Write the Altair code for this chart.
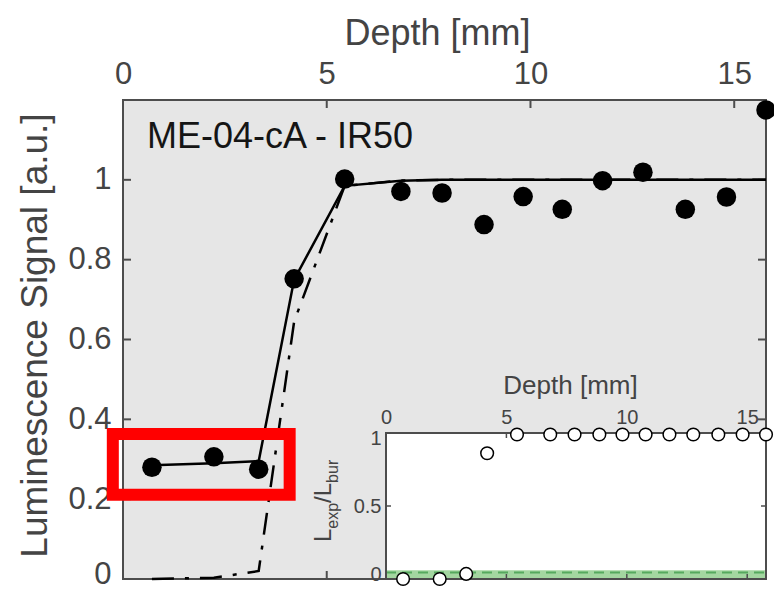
import altair as alt
import pandas as pd

# ---------------- data ----------------
depth = [0.71, 2.23, 3.33, 4.20, 5.44, 6.82, 7.83, 8.86, 9.82, 10.78, 11.77, 12.76, 13.80, 14.81, 15.78]
signal = [0.280, 0.306, 0.275, 0.752, 1.002, 0.971, 0.967, 0.888, 0.958, 0.926, 0.998, 1.019, 0.926, 0.957, 1.175]
fit_solid = [0.285, 0.290, 0.295, 0.750, 0.985, 0.998, 1.000, 1.000, 1.000, 1.000, 1.000, 1.000, 1.000, 1.000, 1.000]
fit_dashdot = [0.000, 0.003, 0.020, 0.645, 0.985, 0.998, 1.000, 1.000, 1.000, 1.000, 1.000, 1.000, 1.000, 1.000, 1.000]
ratio = [0.000, 0.000, 0.035, 0.861, 0.990, 0.990, 0.990, 0.990, 0.990, 0.990, 0.990, 0.990, 0.990, 0.990, 0.990]

x_ticks = [0, 5, 10, 15]
y_ticks = [0, 0.2, 0.4, 0.6, 0.8, 1]
inset_x_ticks = [0, 5, 10, 15]
inset_y_ticks = [0, 0.5, 1]

depth_max = 15.78
signal_max = 1.2
band_top = 0.06
threshold = 0.045
box_depth = [-0.25, 4.09]
box_signal = [0.211, 0.363]
sample_label = "ME-04-cA - IR50"

# ---------------- layout / style ----------------
W, H = 643, 479
IX = [263, 643]      # inset x pixel range inside the plot area
IY = [479, 333]      # inset y pixel range inside the plot area
FONT = "Liberation Sans"
GREY = "#444444"
FRAME = "#4d4d4d"

df = pd.DataFrame({"depth": depth, "signal": signal, "fit_solid": fit_solid,
                   "fit_dashdot": fit_dashdot, "ratio": ratio})
xt = pd.DataFrame({"v": x_ticks})
yt = pd.DataFrame({"v": y_ticks})
ixt = pd.DataFrame({"v": inset_x_ticks})
iyt = pd.DataFrame({"v": inset_y_ticks})

# ---------------- main panel ----------------
xs = alt.Scale(domain=[0, depth_max], nice=False, zero=False)
ys = alt.Scale(domain=[0, signal_max], nice=False, zero=False)
ax_x = alt.Axis(orient="top", values=x_ticks, format="d", title="Depth [mm]",
                labelFontSize=31, titleFontSize=36, labelPadding=10, titlePadding=6,
                labelFlush=False, titleX=314)
ax_y = alt.Axis(orient="left", values=y_ticks, format="~g", title="Luminescence Signal [a.u.]",
                labelFontSize=31, titleFontSize=37, labelPadding=12, titlePadding=13,
                labelFlush=True, labelFlushOffset=11, titleY=235)


def MX(f):
    return alt.X(f, type="quantitative", scale=xs, axis=ax_x)


def MY(f):
    return alt.Y(f, type="quantitative", scale=ys, axis=ax_y)


base = alt.Chart(df)
line_solid = base.mark_line(color="black", strokeWidth=2.5).encode(x=MX("depth"), y=MY("fit_solid"))
line_dd = base.mark_line(color="black", strokeWidth=2.5, strokeDash=[22, 11, 4, 11]).encode(
    x=MX("depth"), y=MY("fit_dashdot"))
pts = base.mark_circle(color="black", size=380, opacity=1).encode(x=MX("depth"), y=MY("signal"))

tk_top = alt.Chart(xt).mark_rule(color=FRAME, strokeWidth=2).encode(x=MX("v"), y=alt.value(0), y2=alt.value(8))
tk_bot = alt.Chart(xt).mark_rule(color=FRAME, strokeWidth=2).encode(x=MX("v"), y=alt.value(H - 8), y2=alt.value(H))
tk_left = alt.Chart(yt).mark_rule(color=FRAME, strokeWidth=2).encode(y=MY("v"), x=alt.value(0), x2=alt.value(8))
tk_right = alt.Chart(yt).mark_rule(color=FRAME, strokeWidth=2).encode(y=MY("v"), x=alt.value(W - 8), x2=alt.value(W))

box_df = pd.DataFrame({"x": [box_depth[0]], "x2": [box_depth[1]], "y": [box_signal[0]], "y2": [box_signal[1]]})
box = alt.Chart(box_df).mark_rect(filled=False, stroke="#ff0000", strokeWidth=12).encode(
    x=MX("x"), x2="x2", y=MY("y"), y2="y2")

lab = alt.Chart(pd.DataFrame({"t": [sample_label]})).mark_text(
    font=FONT, fontSize=36, color="#151515", align="left", baseline="alphabetic"
).encode(x=alt.value(24), y=alt.value(48), text="t")

main = alt.layer(tk_top, tk_bot, tk_left, tk_right, line_dd, line_solid, pts, box, lab)

# ---------------- inset panel ----------------
ixs = alt.Scale(domain=[0, depth_max], range=IX, nice=False, zero=False)
iys = alt.Scale(domain=[0, 1], range=IY, nice=False, zero=False)
ax_ix = alt.Axis(orient="top", offset=-IY[1], values=inset_x_ticks, format="d", title="Depth [mm]",
                 labelFontSize=20, titleFontSize=26, labelPadding=6, titlePadding=9,
                 labelFlush=False, titleX=447)
ax_iy = alt.Axis(orient="left", offset=-IX[0], values=inset_y_ticks, format="~g", title=None,
                 labelFontSize=20, labelPadding=5, labelFlush=True, labelFlushOffset=5)


def IXe(f):
    return alt.X(f, type="quantitative", scale=ixs, axis=ax_ix)


def IYe(f):
    return alt.Y(f, type="quantitative", scale=iys, axis=ax_iy)


frame_df = pd.DataFrame({"x": [0], "x2": [depth_max], "y": [0], "y2": [1]})
band_df = pd.DataFrame({"x": [0], "x2": [depth_max], "y": [0], "y2": [band_top]})
thr_df = pd.DataFrame({"x": [0], "x2": [depth_max], "y": [threshold]})

ibg = alt.Chart(frame_df).mark_rect(fill="white", strokeWidth=0).encode(
    x=IXe("x"), x2="x2", y=IYe("y"), y2="y2")
iband = alt.Chart(band_df).mark_rect(fill="#a3d6a0", strokeWidth=0).encode(
    x=IXe("x"), x2="x2", y=IYe("y"), y2="y2")
ithr = alt.Chart(thr_df).mark_rule(color="#56a95e", strokeWidth=2, strokeDash=[10, 6]).encode(
    x=IXe("x"), x2="x2", y=IYe("y"))
iframe = alt.Chart(frame_df).mark_rect(filled=False, stroke=FRAME, strokeWidth=2).encode(
    x=IXe("x"), x2="x2", y=IYe("y"), y2="y2")
itk_top = alt.Chart(ixt).mark_rule(color=FRAME, strokeWidth=1.5).encode(
    x=IXe("v"), y=alt.value(IY[1]), y2=alt.value(IY[1] + 5))
itk_bot = alt.Chart(ixt).mark_rule(color=FRAME, strokeWidth=1.5).encode(
    x=IXe("v"), y=alt.value(IY[0] - 5), y2=alt.value(IY[0]))
itk_left = alt.Chart(iyt).mark_rule(color=FRAME, strokeWidth=1.5).encode(
    y=IYe("v"), x=alt.value(IX[0]), x2=alt.value(IX[0] + 5))
itk_right = alt.Chart(iyt).mark_rule(color=FRAME, strokeWidth=1.5).encode(
    y=IYe("v"), x=alt.value(IX[1] - 5), x2=alt.value(IX[1]))
ipts = alt.Chart(df).mark_point(shape="circle", filled=True, fill="white", stroke="black",
                                strokeWidth=1.5, size=160, opacity=1).encode(x=IXe("depth"), y=IYe("ratio"))

# rotated y title of the inset: L_exp / L_bur
tx, ty = 208, 442
pieces = [("L", 24, 0, 0), ("exp", 16, 13.3, 7), ("/L", 24, 39.1, 0), ("bur", 16, 59.1, 7)]
ititle = []
for txt, fs, ddx, ddy in pieces:
    ititle.append(
        alt.Chart(pd.DataFrame({"t": [txt]})).mark_text(
            font=FONT, fontSize=fs, color=GREY, angle=270, align="left", baseline="alphabetic",
            dx=ddx, dy=ddy
        ).encode(x=alt.value(tx), y=alt.value(ty), text="t")
    )

inset = alt.layer(ibg, iband, ithr, iframe, itk_top, itk_bot, itk_left, itk_right, ipts, *ititle)

chart = alt.layer(main, inset).resolve_scale(x="independent", y="independent").properties(
    width=W, height=H,
    autosize=alt.AutoSizeParams(type="none"),
    padding={"left": 123, "top": 100, "right": 8, "bottom": 13},
).configure_view(fill="#e6e6e6", stroke=FRAME, strokeWidth=2).configure_axis(
    labelFont=FONT, titleFont=FONT, labelColor=GREY, titleColor=GREY, titleFontWeight="normal",
    grid=False, ticks=False, domain=False, labelOverlap=False
)

chart.save("out.html", embed_options={"renderer": "svg", "actions": False})
